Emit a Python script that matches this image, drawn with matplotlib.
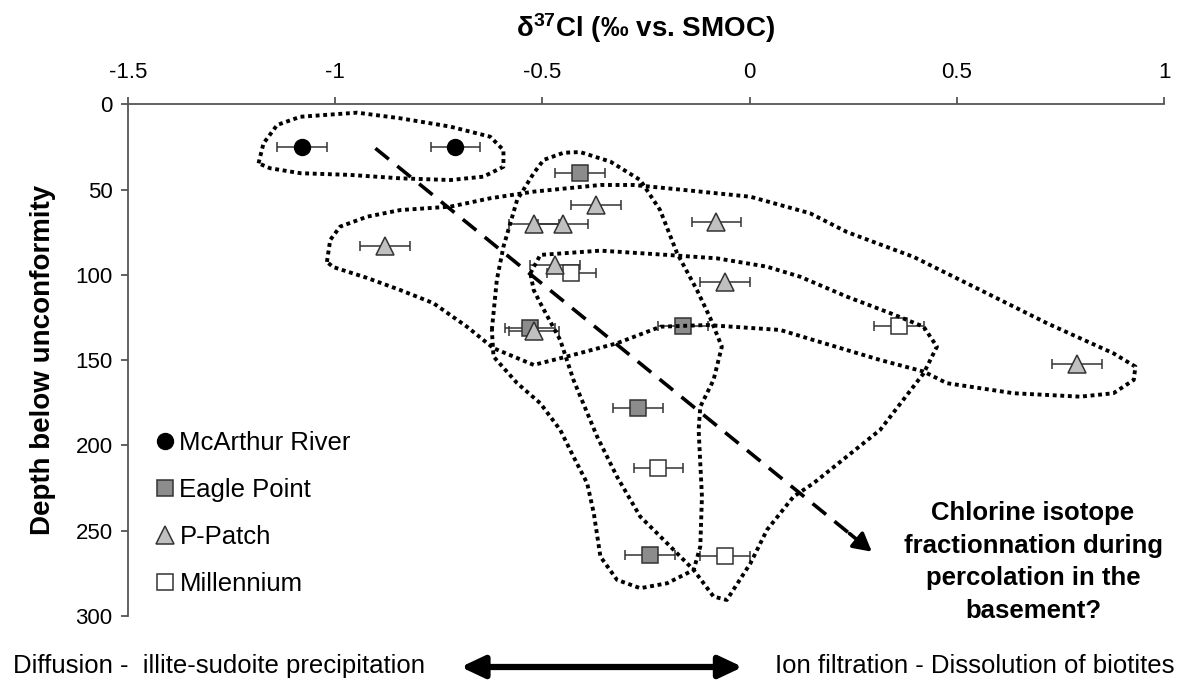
import matplotlib
matplotlib.use("Agg")
import matplotlib.pyplot as plt
from matplotlib.lines import Line2D
import numpy as np

plt.rcParams['font.family'] = ['Liberation Sans', 'DejaVu Sans']
plt.rcParams['mathtext.fontset'] = 'custom'
plt.rcParams['mathtext.rm'] = 'Liberation Sans'
plt.rcParams['mathtext.bf'] = 'Liberation Sans:bold'
plt.rcParams['mathtext.it'] = 'Liberation Sans:italic'

# ---------------- data ----------------
mcarthur_x = [-1.08, -0.71]
mcarthur_y = [25, 25]
mcarthur_err = [0.06, 0.06]

eagle_x = [-0.41, -0.53, -0.16, -0.27, -0.24]
eagle_y = [40, 131, 130, 178, 264]
eagle_err = [0.06, 0.06, 0.06, 0.06, 0.06]

ppatch_x = [-0.37, -0.52, -0.45, -0.08, -0.88, -0.47, -0.06, -0.52, 0.79]
ppatch_y = [59, 70, 70, 69, 83, 94, 104, 133, 152]
ppatch_err = [0.06, 0.06, 0.06, 0.06, 0.06, 0.06, 0.06, 0.06, 0.06]

mill_x = [-0.43, -0.22, -0.06, 0.36]
mill_y = [99, 213, 265, 130]
mill_err = [0.06, 0.06, 0.06, 0.06]

x_ticks = [-1.5, -1, -0.5, 0, 0.5, 1]
x_ticklabels = ['-1.5', '-1', '-0.5', '0', '0.5', '1']
y_ticks = [0, 50, 100, 150, 200, 250, 300]

# envelope outlines (x, depth)
env_mcarthur = [(-1.185, 34.6), (-1.173, 22.9), (-1.140, 12.1), (-1.084, 7.3),
                (-0.947, 4.9), (-0.843, 8.2), (-0.722, 13.1), (-0.626, 19.0),
                (-0.594, 26.8), (-0.594, 36.6), (-0.642, 42.4), (-0.722, 44.4),
                (-0.843, 43.4), (-0.964, 41.4), (-1.084, 40.4), (-1.157, 37.5)]
env_ppatch = [(-1.020, 92.4), (-1.012, 79.5), (-0.988, 71.7), (-0.923, 65.9),
              (-0.843, 62.0), (-0.722, 60.0), (-0.626, 55.1), (-0.521, 51.2),
              (-0.360, 47.3), (-0.280, 47.3), (-0.159, 50.2), (0.002, 54.2),
              (0.146, 63.9), (0.235, 74.9), (0.396, 89.5), (0.557, 108.9),
              (0.718, 128.4), (0.878, 146.0), (0.931, 153.8), (0.927, 161.6),
              (0.878, 169.4), (0.798, 171.4), (0.637, 169.4), (0.476, 163.5),
              (0.420, 156.7), (0.315, 149.9), (0.154, 138.2), (0.074, 132.3),
              (-0.103, 129.4), (-0.215, 130.4), (-0.320, 140.1), (-0.441, 147.9),
              (-0.521, 152.8), (-0.618, 143.0), (-0.682, 130.4), (-0.763, 116.6),
              (-0.843, 108.9), (-0.923, 101.8), (-1.005, 95.4)]
env_eagle = [(-0.622, 132.3), (-0.610, 103.0), (-0.594, 83.5), (-0.561, 56.1),
             (-0.521, 40.4), (-0.497, 32.6), (-0.449, 28.4), (-0.409, 28.0),
             (-0.336, 33.6), (-0.264, 44.4), (-0.216, 62.0), (-0.175, 87.3),
             (-0.127, 108.9), (-0.095, 125.3), (-0.067, 142.1), (-0.087, 161.6),
             (-0.119, 177.3), (-0.123, 190.9), (-0.115, 230.0), (-0.119, 259.3),
             (-0.135, 273.0), (-0.199, 280.8), (-0.264, 283.7), (-0.320, 278.8),
             (-0.360, 265.2), (-0.376, 239.7), (-0.392, 222.2), (-0.425, 206.6),
             (-0.457, 190.9), (-0.505, 175.3), (-0.561, 163.5), (-0.618, 147.9)]
env_mill = [(-0.529, 99.1), (-0.505, 88.3), (-0.360, 85.8), (-0.199, 88.3),
            (-0.079, 90.3), (0.042, 95.2), (0.122, 101.1), (0.235, 112.8),
            (0.340, 122.5), (0.420, 130.4), (0.452, 142.1), (0.420, 157.7),
            (0.315, 190.9), (0.154, 222.2), (0.106, 230.0), (0.042, 249.5),
            (0.002, 269.1), (-0.055, 290.6), (-0.087, 288.6), (-0.135, 273.0),
            (-0.215, 253.5), (-0.264, 241.7), (-0.320, 218.3), (-0.368, 194.8),
            (-0.425, 161.6), (-0.457, 138.2), (-0.505, 116.6), (-0.521, 108.9)]

trend_start = (-0.903, 25.8)
trend_end = (0.295, 262.3)

# ---------------- figure ----------------
W, H = 1187, 680
fig = plt.figure(figsize=(W / 100, H / 100), dpi=100)
ax = fig.add_axes([128 / W, 1 - 616 / H, (1164 - 128) / W, (616 - 104.3) / H])

ax.set_xlim(-1.5, 1)
ax.set_ylim(300, 0)
ax.xaxis.tick_top()
ax.set_xticks(x_ticks)
ax.set_xticklabels(x_ticklabels)
ax.set_yticks(y_ticks)
for s in ['right', 'bottom']:
    ax.spines[s].set_visible(False)
for s in ['top', 'left']:
    ax.spines[s].set_color('#555555')
    ax.spines[s].set_linewidth(1.3)
ax.tick_params(axis='x', direction='out', length=5, width=1.3, color='#555555',
               labelsize=16, pad=10, top=True, bottom=False)
ax.tick_params(axis='y', direction='out', length=5, width=1.3, color='#555555',
               labelsize=16, pad=6)

edge = '#333333'
ebkw = dict(fmt='none', ecolor='#333333', elinewidth=1.1, capsize=3.6,
            capthick=1.1, zorder=2)
ax.errorbar(mcarthur_x, mcarthur_y, xerr=mcarthur_err, **ebkw)
ax.errorbar(eagle_x, eagle_y, xerr=eagle_err, **ebkw)
ax.errorbar(ppatch_x, ppatch_y, xerr=ppatch_err, **ebkw)
ax.errorbar(mill_x, mill_y, xerr=mill_err, **ebkw)

ax.plot(mcarthur_x, mcarthur_y, 'o', ms=11.5, mfc='black', mec='black', zorder=3)
ax.plot(eagle_x, eagle_y, 's', ms=12, mfc='#8c8c8c', mec=edge, mew=1.1, zorder=3)
ax.plot(mill_x, mill_y, 's', ms=12, mfc='white', mec=edge, mew=1.1, zorder=3)
ax.plot(ppatch_x, ppatch_y, '^', ms=12.5, mfc='#c0c0c0', mec=edge, mew=1.1, zorder=3)

for env in [env_mcarthur, env_ppatch, env_eagle, env_mill]:
    xs = [p[0] for p in env] + [env[0][0]]
    ys = [p[1] for p in env] + [env[0][1]]
    ax.plot(xs, ys, color='black', lw=2.8, linestyle=(0, (1, 0.95)),
            dash_capstyle='butt', solid_joinstyle='round', zorder=4)

# dashed trend arrow
sx, sy = trend_start
ex, ey = trend_end
frac = 0.955
mx, my = sx + (ex - sx) * frac, sy + (ey - sy) * frac
ax.plot([sx, mx], [sy, my], color='black', lw=2.6, linestyle=(0, (4.8, 3.0)),
        dash_capstyle='butt', zorder=5)
ax.annotate('', xy=(ex, ey), xytext=(mx, my),
            arrowprops=dict(arrowstyle='-|>,head_length=0.55,head_width=0.3',
                            color='black', lw=2.6, shrinkA=0, shrinkB=0,
                            mutation_scale=20), zorder=5)

# legend
handles = [
    Line2D([], [], marker='o', ls='none', ms=11.5, mfc='black', mec='black'),
    Line2D([], [], marker='s', ls='none', ms=12, mfc='#8c8c8c', mec=edge, mew=1.1),
    Line2D([], [], marker='^', ls='none', ms=12.5, mfc='#c0c0c0', mec=edge, mew=1.1),
    Line2D([], [], marker='s', ls='none', ms=12, mfc='white', mec=edge, mew=1.1),
]
labels = ['McArthur River', 'Eagle Point', 'P-Patch', 'Millennium']
ax.legend(handles, labels, loc='upper left', bbox_to_anchor=(155 / W, 1 - 431 / H),
          bbox_transform=fig.transFigure, frameon=False, fontsize=18.5,
          borderpad=0, borderaxespad=0, handlelength=0.8, handletextpad=0.15,
          labelspacing=0.9)

# titles
fig.text(646 / W, 1 - 36.7 / H, r'δ$^{\mathbf{37}}$Cl (‰ vs. SMOC)', ha='center',
         va='baseline', fontsize=20, fontweight='bold')
fig.text(43 / W, 1 - 360 / H, 'Depth below unconformity', rotation=90,
         ha='center', va='center', fontsize=20, fontweight='bold')

fig.text(1033 / W, 1 - 562 / H,
         'Chlorine isotope\nfractionnation during\npercolation in the\nbasement?',
         ha='center', va='center', multialignment='center', fontsize=18.5,
         fontweight='bold', linespacing=1.45)

# bottom annotations
fig.text(13 / W, 1 - 666 / H, 'Diffusion -  illite-sudoite precipitation',
         ha='left', va='center', fontsize=18.5)
fig.text(775 / W, 1 - 666 / H, 'Ion filtration - Dissolution of biotites',
         ha='left', va='center', fontsize=18.5)
fig.patches.append(matplotlib.patches.FancyArrowPatch(
    (460.7 / W, 1 - 667 / H), (742.7 / W, 1 - 667 / H), transform=fig.transFigure,
    arrowstyle='<|-|>,head_length=0.7,head_width=0.33', mutation_scale=20,
    color='black', lw=4.5, shrinkA=0, shrinkB=0))

fig.savefig('out.png', dpi=100)
